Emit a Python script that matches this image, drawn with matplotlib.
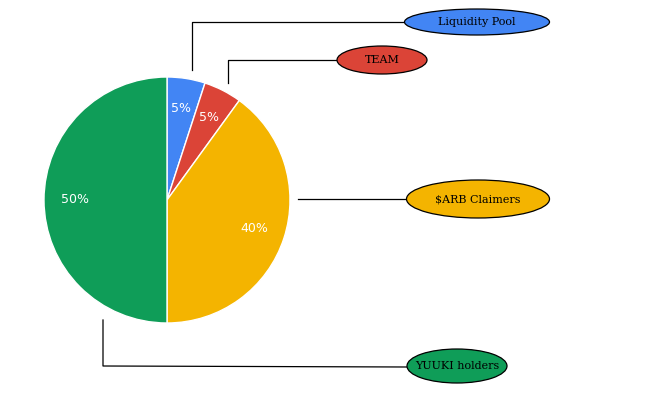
import matplotlib
matplotlib.use("Agg")
import matplotlib.pyplot as plt
from matplotlib.patches import Ellipse

labels = ["Liquidity Pool", "TEAM", "$ARB Claimers", "YUUKI holders"]
values = [5, 5, 40, 50]
colors = ["#4285F4", "#DB4437", "#F4B400", "#0F9D58"]

W, H = 668, 400
fig = plt.figure(figsize=(W/100, H/100), dpi=100)
cx, cy, r = 167, 200, 123
ax = fig.add_axes([(cx-r)/W, (H-cy-r)/H, 2*r/W, 2*r/H])
ax.pie(values, colors=colors, startangle=90, counterclock=False,
       autopct='%1.0f%%', pctdistance=0.75,
       wedgeprops=dict(edgecolor='white', linewidth=1),
       textprops=dict(color='white', fontsize=9, family='DejaVu Sans'))
ax.set_xlim(-1, 1); ax.set_ylim(-1, 1); ax.set_aspect('equal'); ax.axis('off')

ov = fig.add_axes([0, 0, 1, 1], zorder=-1)
ov.set_xlim(0, W); ov.set_ylim(H, 0); ov.axis('off')
# callouts: line path, ellipse center, width, height
callouts = [
    ([(192, 70), (192, 22), (405, 22)], (477, 22), 145, 26),
    ([(228, 83), (228, 60), (337, 60)], (382, 60), 90, 28),
    ([(298, 199), (407, 199)], (478, 199), 143, 38),
    ([(103, 320), (103, 366), (407, 367)], (457, 366), 100, 34),
]
for lab, col, (path, c, w, h) in zip(labels, colors, callouts):
    xs, ys = zip(*path)
    ov.plot(xs, ys, color='black', lw=0.9)
    ov.add_patch(Ellipse(c, w, h, facecolor=col, edgecolor='black', lw=0.9, zorder=3))
    ov.text(c[0], c[1], lab, ha='center', va='center', fontsize=8,
            family='DejaVu Serif', color='black', zorder=4)

fig.savefig("out.png", dpi=100)
